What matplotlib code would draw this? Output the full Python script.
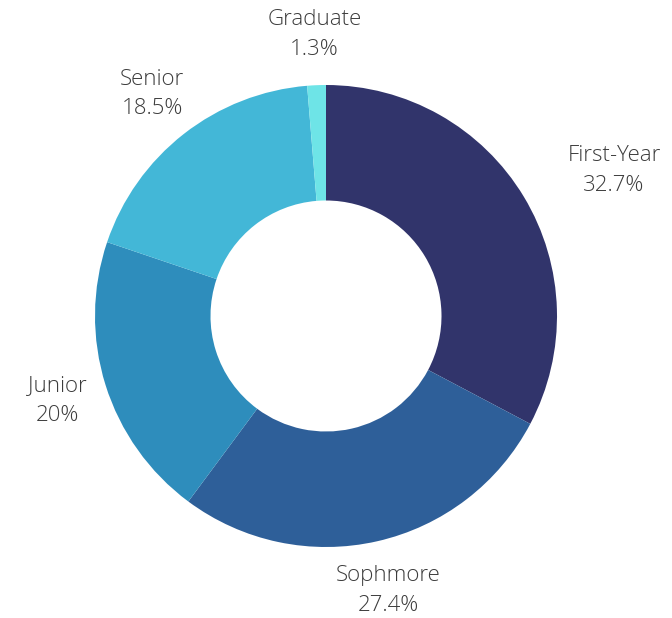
import matplotlib
matplotlib.use("Agg")
import matplotlib.pyplot as plt

categories = ["First-Year", "Sophmore", "Junior", "Senior", "Graduate"]
shares = [32.7, 27.4, 20, 18.5, 1.3]
pct_labels = ["32.7%", "27.4%", "20%", "18.5%", "1.3%"]
colors = ["#31346b", "#2e5f99", "#2e8dbc", "#43b7d7", "#6ee4e7"]

plt.rcParams["font.family"] = ["Open Sans", "DejaVu Sans"]

fig = plt.figure(figsize=(6.72, 6.18), dpi=100)
ax = fig.add_axes([95 / 672, 71 / 618, 462 / 672, 462 / 618])

labels = [f"{c}\n{p}" for c, p in zip(categories, pct_labels)]
wedges, texts = ax.pie(shares, colors=colors, startangle=90, counterclock=False,
                       radius=1, labels=labels, labeldistance=1.22,
                       wedgeprops=dict(width=0.5, linewidth=0),
                       textprops=dict(fontsize=16, color="#3c3c3c",
                                      fontweight="light", linespacing=1.55))
for i, t in enumerate(texts):
    t.set_ha("left" if i == 0 else "center")
    t.set_va("center")
    t.set_multialignment("center")

ax.set_xlim(-1, 1)
ax.set_ylim(-1, 1)
ax.set_aspect("equal")
ax.axis("off")

fig.savefig("out.png", dpi=100, facecolor="white")
